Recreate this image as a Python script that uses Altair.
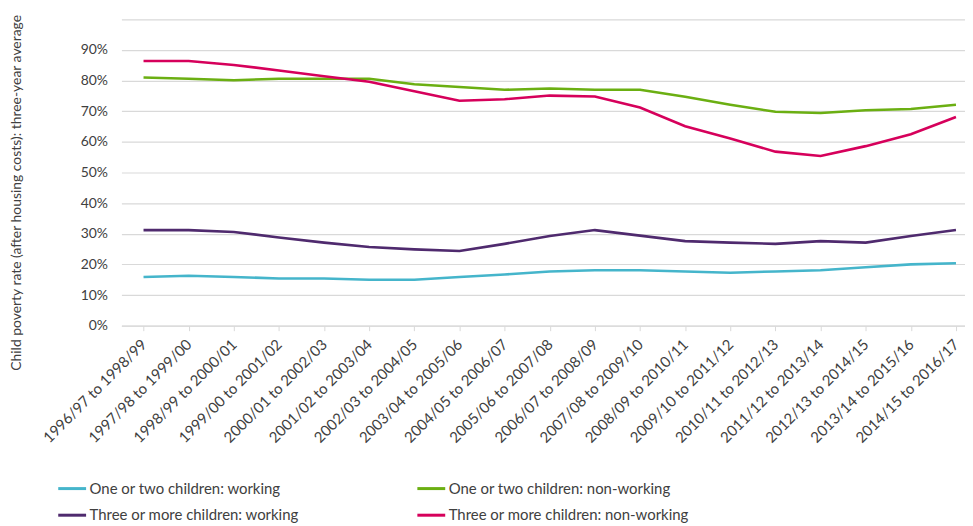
import altair as alt
import pandas as pd

periods = [
    "1996/97 to 1998/99", "1997/98 to 1999/00", "1998/99 to 2000/01",
    "1999/00 to 2001/02", "2000/01 to 2002/03", "2001/02 to 2003/04",
    "2002/03 to 2004/05", "2003/04 to 2005/06", "2004/05 to 2006/07",
    "2005/06 to 2007/08", "2006/07 to 2008/09", "2007/08 to 2009/10",
    "2008/09 to 2010/11", "2009/10 to 2011/12", "2010/11 to 2012/13",
    "2011/12 to 2013/14", "2012/13 to 2014/15", "2013/14 to 2015/16",
    "2014/15 to 2016/17",
]

one_two_working = [15.9, 16.3, 15.9, 15.4, 15.4, 15.0, 15.0, 15.9, 16.7, 17.7,
                   18.1, 18.1, 17.7, 17.3, 17.7, 18.1, 19.1, 20.0, 20.4]
one_two_nonworking = [81.0, 80.6, 80.1, 80.6, 80.6, 80.6, 78.8, 77.9, 77.0, 77.4,
                      77.0, 77.0, 74.7, 72.1, 69.8, 69.4, 70.3, 70.7, 72.1]
three_working = [31.2, 31.2, 30.6, 28.8, 27.1, 25.7, 24.9, 24.4, 26.7, 29.3,
                 31.2, 29.4, 27.6, 27.1, 26.7, 27.6, 27.1, 29.3, 31.2]
three_nonworking = [86.4, 86.4, 85.1, 83.3, 81.4, 79.6, 76.5, 73.4, 73.9, 75.1,
                    74.8, 71.2, 65.1, 61.1, 56.8, 55.4, 58.6, 62.5, 68.1]

# legend order (filled column by column): col 1 = working, col 2 = non-working
series_names = [
    "One or two children: working",
    "Three or more children: working",
    "One or two children: non-working",
    "Three or more children: non-working",
]
series_colors = ["#45B5CB", "#4F2A6E", "#6BAF12", "#D6005B"]
series_values = [one_two_working, three_working, one_two_nonworking, three_nonworking]

rows = []
for name, vals in zip(series_names, series_values):
    for i, v in enumerate(vals):
        rows.append({"idx": i, "period": periods[i], "series": name, "rate": v})
df = pd.DataFrame(rows)

label_list = "[" + ",".join("'" + p + "'" for p in periods) + "]"

FONT = "Lato"

chart = alt.Chart(df).mark_line(strokeWidth=2.6).encode(
    x=alt.X("idx:Q",
            scale=alt.Scale(domain=[-0.49, 18.2], nice=False, zero=False),
            axis=alt.Axis(title=None, values=list(range(len(periods))),
                          labelExpr=label_list + "[datum.value]",
                          labelAngle=315, labelAlign="right",
                          labelBaseline="middle", labelPadding=11, labelFontSize=15,
                          labelColor="#404040", labelFont=FONT, tickSize=5,
                          tickColor="#d9d9d9", domainColor="#d9d9d9", grid=False,
                          labelOverlap=False, labelFlush=False)),
    y=alt.Y("rate:Q", scale=alt.Scale(domain=[0, 100]),
            axis=alt.Axis(values=list(range(0, 101, 10)),
                          labelExpr="datum.value >= 100 ? '' : datum.value + '%'",
                          title="Child poverty rate (after housing costs): three-year average",
                          titleFont=FONT, titleFontSize=14, titleFontWeight="normal",
                          titleColor="#404040", titleX=-105, titleY=174,
                          titleBaseline="middle",
                          labelFont=FONT, labelFontSize=14, labelColor="#404040",
                          labelPadding=14, tickSize=0, domain=False,
                          grid=True, gridColor="#d9d9d9", gridWidth=1.2)),
    color=alt.Color("series:N", sort=series_names,
                    scale=alt.Scale(domain=series_names, range=series_colors),
                    legend=alt.Legend(title=None, orient="none", legendX=-65, legendY=456,
                                      columns=2, columnPadding=112, rowPadding=3,
                                      symbolType="stroke", symbolStrokeWidth=3,
                                      symbolSize=784, labelFont=FONT, labelFontSize=15,
                                      labelColor="#404040", labelOffset=2,
                                      labelLimit=400)),
).properties(
    width=848, height=308,
    autosize=alt.AutoSizeParams(type="none"),
    padding={"left": 114, "top": 10, "right": 0, "bottom": 198},
).configure_view(stroke=None)

chart.save("out.html", embed_options={"renderer": "svg", "actions": False})
